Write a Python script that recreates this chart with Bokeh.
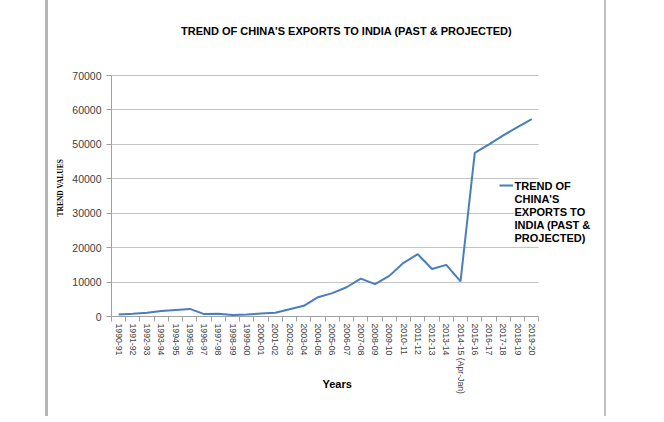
from bokeh.plotting import figure
from bokeh.embed import file_html
from bokeh.resources import INLINE
from bokeh.layouts import row
from bokeh.models import (Range1d, FixedTicker, NumeralTickFormatter, Label, Title,
                          Legend, LegendItem, Spacer, Div)

# ---------------- data ----------------
categories = ["1990-91", "1991-92", "1992-93", "1993-94", "1994-95", "1995-96",
              "1996-97", "1997-98", "1998-99", "1999-00", "2000-01", "2001-02",
              "2002-03", "2003-04", "2004-05", "2005-06", "2006-07", "2007-08",
              "2008-09", "2009-10", "2010-11", "2011-12", "2012-13", "2013-14",
              "2014-15 (Apr-Jan)", "2015-16", "2016-17", "2017-18", "2018-19",
              "2019-20"]
trend_values = [600, 800, 1100, 1600, 1900, 2200,
                700, 800, 450, 550, 850, 1100,
                2100, 3100, 5600, 6800, 8500, 11000,
                9400, 11800, 15600, 18100, 13800, 15000,
                10200, 47500, 50000, 52600, 55000, 57300]
y_ticks = [0, 10000, 20000, 30000, 40000, 50000, 60000, 70000]
series_name = "TREND OF CHINA'S EXPORTS TO INDIA (PAST & PROJECTED)"
legend_text = "TREND OF\nCHINA'S\nEXPORTS TO\nINDIA (PAST &\nPROJECTED)"
chart_title = "TREND OF CHINA'S EXPORTS TO INDIA (PAST & PROJECTED)"
x_title = "Years"
y_title = "TREND VALUES"

n = len(categories)
xs = list(range(n))
y_max = y_ticks[-1]

# ---------------- layout geometry (pixels) ----------------
FRAME_L, FRAME_R, FRAME_T, FRAME_B = 108, 600, 10, 316
AXIS_R = 538          # right end of the category axis
Y_TOP_PX = 75         # pixel row of the top tick (70000)
FIG_LEFT = 48
FIG_W, FIG_H = 556, 422

px_per_cat = (AXIS_R - FRAME_L) / n
x_end = -0.5 + (FRAME_R - FRAME_L) / px_per_cat
y_end = y_max * (FRAME_B - FRAME_T) / (FRAME_B - Y_TOP_PX)

p = figure(width=FIG_W, height=FIG_H, output_backend="svg", toolbar_location=None,
           x_range=Range1d(-0.5, x_end), y_range=Range1d(0, y_end),
           min_border_left=FRAME_L - FIG_LEFT, min_border_right=FIG_LEFT + FIG_W - FRAME_R,
           min_border_top=FRAME_T, min_border_bottom=FIG_H - FRAME_B)
p.outline_line_color = None
p.background_fill_color = "white"
p.border_fill_color = "white"

r = p.line(xs, trend_values, line_color="#4a7ebb", line_width=2)

# y axis
p.yaxis.ticker = FixedTicker(ticks=y_ticks)
p.yaxis.bounds = (0, y_max)
p.yaxis.formatter = NumeralTickFormatter(format="0")
p.yaxis.major_label_text_font = "Liberation Sans"
p.yaxis.major_label_text_font_size = "10.5px"
p.yaxis.major_label_text_color = "#404040"
p.yaxis.major_tick_out = 5
p.yaxis.major_tick_in = 0
p.yaxis.minor_tick_line_color = None
p.yaxis.major_tick_line_color = "#a0a0a0"
p.yaxis.axis_line_color = "#a0a0a0"
p.yaxis.major_label_standoff = 5

# y axis title (as a side title so it can sit off-centre like the reference)
p.add_layout(Title(text=y_title, align="left", offset=100, standoff=10,
                   vertical_align="bottom", text_font="Liberation Serif",
                   text_font_style="bold", text_font_size="7.5px",
                   text_color="black"), "left")

# x axis
p.xaxis.ticker = FixedTicker(ticks=xs, minor_ticks=[i - 0.5 for i in range(n + 1)])
p.xaxis.bounds = (-0.5, n - 0.5)
p.xaxis.major_label_overrides = {i: c for i, c in zip(xs, categories)}
p.xaxis.major_label_orientation = "vertical"
p.xaxis.major_label_text_font = "Liberation Sans"
p.xaxis.major_label_text_font_size = "8.7px"
p.xaxis.major_label_text_color = "#404040"
p.xaxis.major_tick_line_color = None
p.xaxis.major_tick_out = 5
p.xaxis.minor_tick_out = 5
p.xaxis.minor_tick_in = 0
p.xaxis.minor_tick_line_color = "#a0a0a0"
p.xaxis.axis_line_color = "#a0a0a0"
p.xaxis.major_label_standoff = 2

# grid
p.xgrid.visible = False
p.ygrid.grid_line_color = "#c4c4c4"
p.ygrid.grid_line_width = 1
p.ygrid.cross_bounds = (-0.5, n - 0.5)

# chart title (inside the extended frame)
p.add_layout(Label(x=343 - FRAME_L, y=FRAME_B - 30, x_units="screen", y_units="screen",
                   text=chart_title, text_align="center", text_baseline="middle",
                   text_font="Liberation Sans", text_font_style="bold",
                   text_font_size="11px", text_color="black"))

# x axis title
p.add_layout(Title(text=x_title, align="left", offset=211, standoff=-40,
                   vertical_align="top", text_font="Liberation Sans",
                   text_font_style="bold", text_font_size="11px",
                   text_color="black"), "below")

# legend: line sample from the renderer, wrapped series name as text beside it
legend = Legend(items=[LegendItem(label="", renderers=[r])],
                location=(496 - FRAME_L, FRAME_B - 191))
legend.glyph_width = 14
legend.glyph_height = 12
legend.label_height = 12
legend.label_width = 0
legend.label_standoff = 0
legend.label_text_font_size = "11px"
legend.padding = 0
legend.margin = 0
legend.spacing = 0
legend.border_line_color = None
legend.background_fill_alpha = 0
p.add_layout(legend)

p.add_layout(Label(x=511 - FRAME_L, y=FRAME_B - 179, x_units="screen", y_units="screen",
                   text=legend_text, text_align="left", text_baseline="top",
                   text_line_height=1.1, text_font="Liberation Sans",
                   text_font_style="bold", text_font_size="11px", text_color="black",
                   background_fill_color="white"))

layout = row(
    Spacer(width=45, height=422, margin=0),
    Div(text="", width=3, height=416, margin=0, styles={"background-color": "#b5b5b5"}),
    p,
    Div(text="", width=2, height=416, margin=0, styles={"background-color": "#c0c0c0"}),
    Spacer(width=58, height=422, margin=0),
)

open("out.html", "w").write(file_html(layout, INLINE))
